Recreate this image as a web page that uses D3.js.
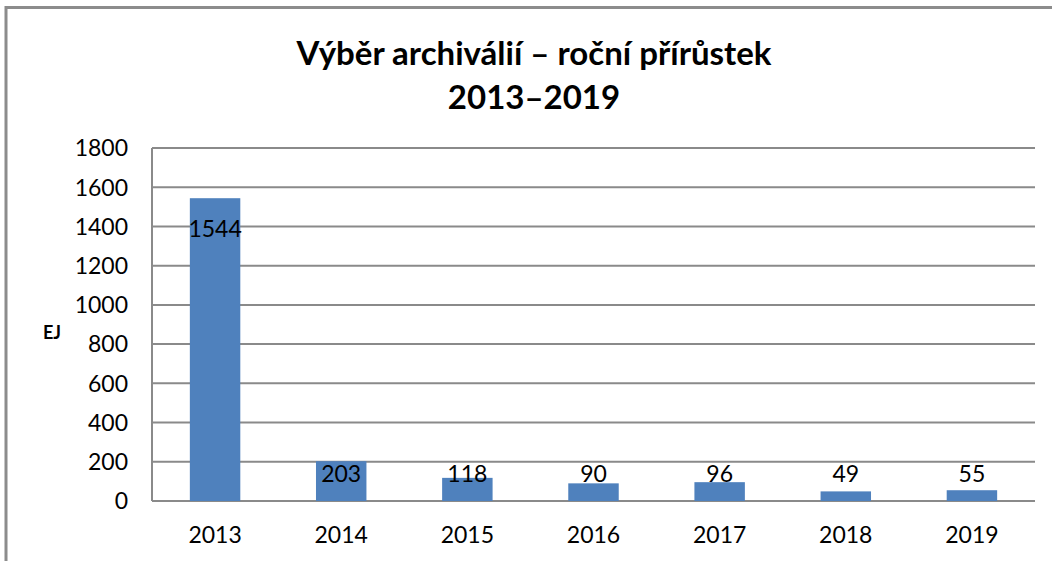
<!DOCTYPE html>
<meta charset="utf-8">
<script src="https://d3js.org/d3.v7.min.js"></script>
<style>
  body { margin: 0; background: #fff; }
  text { font-family: Lato, "Open Sans", sans-serif; fill: #000; }
</style>
<div id="chart"></div>
<script>
// data
var years = ["2013", "2014", "2015", "2016", "2017", "2018", "2019"];
var values = [1544, 203, 118, 90, 96, 49, 55];
var yTicks = [0, 200, 400, 600, 800, 1000, 1200, 1400, 1600, 1800];
var titleLines = ["Výběr archiválií – roční přírůstek", "2013–2019"];
var yLabel = "EJ";

var W = 1052, H = 561;
var plotLeft = 152, plotRight = 1035, plotTop = 148, plotBottom = 501;

var svg = d3.select("#chart").append("svg")
  .attr("width", W).attr("height", H);

// outer frame (only top and left edges are visible in the crop)
svg.append("rect")
  .attr("x", 6).attr("y", 7.5)
  .attr("width", W + 20).attr("height", H + 20)
  .attr("fill", "none")
  .attr("stroke", "#8c8c8c")
  .attr("stroke-width", 3);

var x = d3.scaleBand()
  .domain(years)
  .range([plotLeft, plotRight])
  .paddingInner(0.6)
  .paddingOuter(0.3);

var y = d3.scaleLinear()
  .domain([0, 1800])
  .range([plotBottom, plotTop]);

// gridlines
svg.append("g")
  .selectAll("line")
  .data(yTicks)
  .enter()
  .append("line")
    .attr("x1", plotLeft).attr("x2", plotRight)
    .attr("y1", d => y(d)).attr("y2", d => y(d))
    .attr("stroke", "#8a8a8a")
    .attr("stroke-width", 2);

// y axis line
svg.append("line")
  .attr("x1", plotLeft).attr("x2", plotLeft)
  .attr("y1", plotTop).attr("y2", plotBottom)
  .attr("stroke", "#8a8a8a")
  .attr("stroke-width", 2);

// y tick labels
svg.append("g")
  .selectAll("text")
  .data(yTicks)
  .enter()
  .append("text")
    .attr("x", 128)
    .attr("y", d => y(d))
    .attr("dy", "0.36em")
    .attr("text-anchor", "end")
    .attr("font-size", 23)
    .text(d => d);

// bars
svg.append("g")
  .selectAll("rect")
  .data(values)
  .enter()
  .append("rect")
    .attr("x", (d, i) => x(years[i]))
    .attr("y", d => y(d))
    .attr("width", x.bandwidth())
    .attr("height", d => y(0) - y(d))
    .attr("fill", "#4f81bd");

// data labels (inside end, pushed up for short bars)
svg.append("g")
  .selectAll("text")
  .data(values)
  .enter()
  .append("text")
    .attr("x", (d, i) => x(years[i]) + x.bandwidth() / 2)
    .attr("y", d => Math.min(y(d) + 31, y(0) - 27))
    .attr("dy", "0.36em")
    .attr("text-anchor", "middle")
    .attr("font-size", 23)
    .text(d => d);

// x labels
svg.append("g")
  .selectAll("text")
  .data(years)
  .enter()
  .append("text")
    .attr("x", d => x(d) + x.bandwidth() / 2)
    .attr("y", 535)
    .attr("dy", "0.36em")
    .attr("text-anchor", "middle")
    .attr("font-size", 23)
    .text(d => d);

// title
svg.append("g")
  .selectAll("text")
  .data(titleLines)
  .enter()
  .append("text")
    .attr("x", 534)
    .attr("y", (d, i) => 53 + i * 44)
    .attr("dy", "0.36em")
    .attr("text-anchor", "middle")
    .attr("font-size", 33)
    .attr("font-weight", "bold")
    .text(d => d);

// y axis title
svg.append("text")
  .attr("x", 52)
  .attr("y", 333)
  .attr("dy", "0.36em")
  .attr("text-anchor", "middle")
  .attr("font-size", 18)
  .attr("font-weight", "bold")
  .text(yLabel);
</script>
